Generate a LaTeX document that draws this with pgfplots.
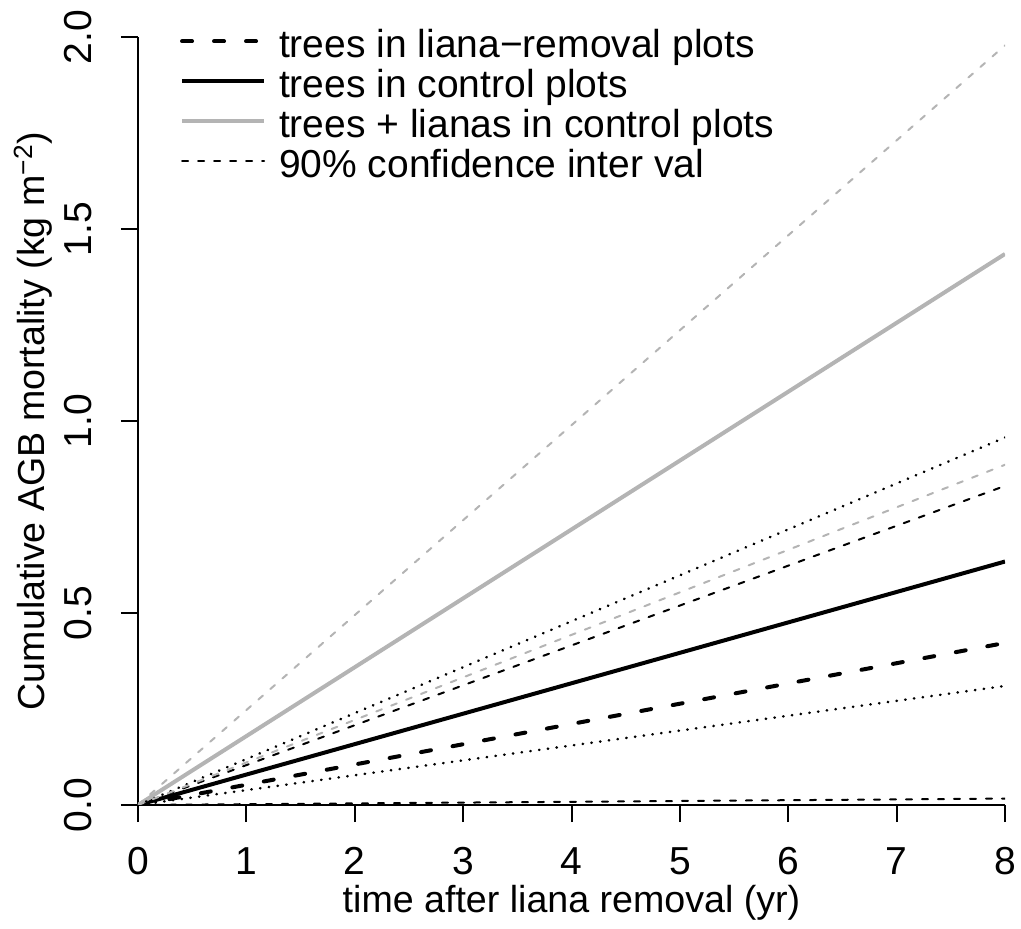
\documentclass[border=0pt]{standalone}
\usepackage{fontspec}
\setmainfont{Liberation Sans}
\usepackage{pgfplots}
\pgfplotsset{compat=1.18}
\definecolor{rgray}{RGB}{180,180,180}
\begin{document}
\fontsize{19.5}{23}\selectfont
\begin{tikzpicture}
\begin{axis}[
  name=ax,
  scale only axis, width=433.5pt, height=384pt,
  xmin=0, xmax=8, ymin=0, ymax=2,
  axis lines=left, axis line style={-, line width=1pt, black},
  tick align=outside, major tick length=8.5pt,
  tick style={line width=1pt, black},
  xtick={0,1,2,3,4,5,6,7,8}, ytick={0,0.5,1,1.5,2},
  /pgf/number format/assume math mode=true,
  y tick label style={/pgf/number format/fixed, /pgf/number format/fixed zerofill, /pgf/number format/precision=1},
  tick label style={font=\fontsize{19.5}{23}\selectfont},
  xticklabel style={anchor=north, inner sep=0pt, yshift=-12.5pt},
  yticklabel style={xshift=-14.5pt, rotate=90, anchor=south, inner sep=0pt},
  xlabel={time after liana removal (yr)},
  ylabel={Cumulative AGB mortality (kg m\textsuperscript{−2})},
  every axis x label/.style={at={(axis description cs:0.5,-0.1406)}, anchor=base, inner sep=0pt, font=\fontsize{18.8}{22}\selectfont},
  every axis y label/.style={at={(axis description cs:-0.1074,0.5)}, rotate=90, anchor=base, inner sep=0pt, font=\fontsize{18.8}{22}\selectfont},
  legend style={at={(axis description cs:0.0485,1)}, anchor=north west, yshift=4.6pt, draw=none, fill=none, inner sep=0pt, outer sep=0pt, font=\fontsize{19.5}{23}\selectfont, row sep=0.5pt, column sep=6.5pt, nodes={inner sep=0pt, text height=0.75em, text depth=0.25em}},
  legend cell align=left,
  legend image code/.code={\draw[#1] (0pt,3pt) -- (41pt,3pt);},
]
\addplot[black, line width=2pt, line cap=round, dash pattern=on 5pt off 11pt] coordinates {(0,0) (8,0.422)};
\addlegendentry{trees in liana−removal plots}
\addplot[black, line width=2pt] coordinates {(0,0) (8,0.634)};
\addlegendentry{trees in control plots}
\addplot[rgray, line width=2pt] coordinates {(0,0) (8,1.435)};
\addlegendentry{trees + lianas in control plots}
\addplot[black, line width=1pt, line cap=round, dash pattern=on 3pt off 5pt] coordinates {(0,0) (8,0.0167)};
\addlegendentry{90\% confidence inter val}
\addplot[forget plot, black, line width=1pt, line cap=round, dash pattern=on 3pt off 5pt] coordinates {(0,0) (8,0.831)};
\addplot[forget plot, black, line width=1.3pt, line cap=round, dash pattern=on 0.2pt off 4.2pt] coordinates {(0,0) (8,0.957)};
\addplot[forget plot, black, line width=1.3pt, line cap=round, dash pattern=on 0.2pt off 4.2pt] coordinates {(0,0) (8,0.310)};
\addplot[forget plot, rgray, line width=1pt, line cap=round, dash pattern=on 3pt off 5pt] coordinates {(0,0) (8,0.886)};
\addplot[forget plot, rgray, line width=1pt, line cap=round, dash pattern=on 3pt off 5pt] coordinates {(0,0) (8,1.978)};
\end{axis}
\pgfresetboundingbox
\path ([shift={(-69pt,-62pt)}]ax.south west) rectangle ([shift={(8pt,18.5pt)}]ax.north east);
\end{tikzpicture}
\end{document}
